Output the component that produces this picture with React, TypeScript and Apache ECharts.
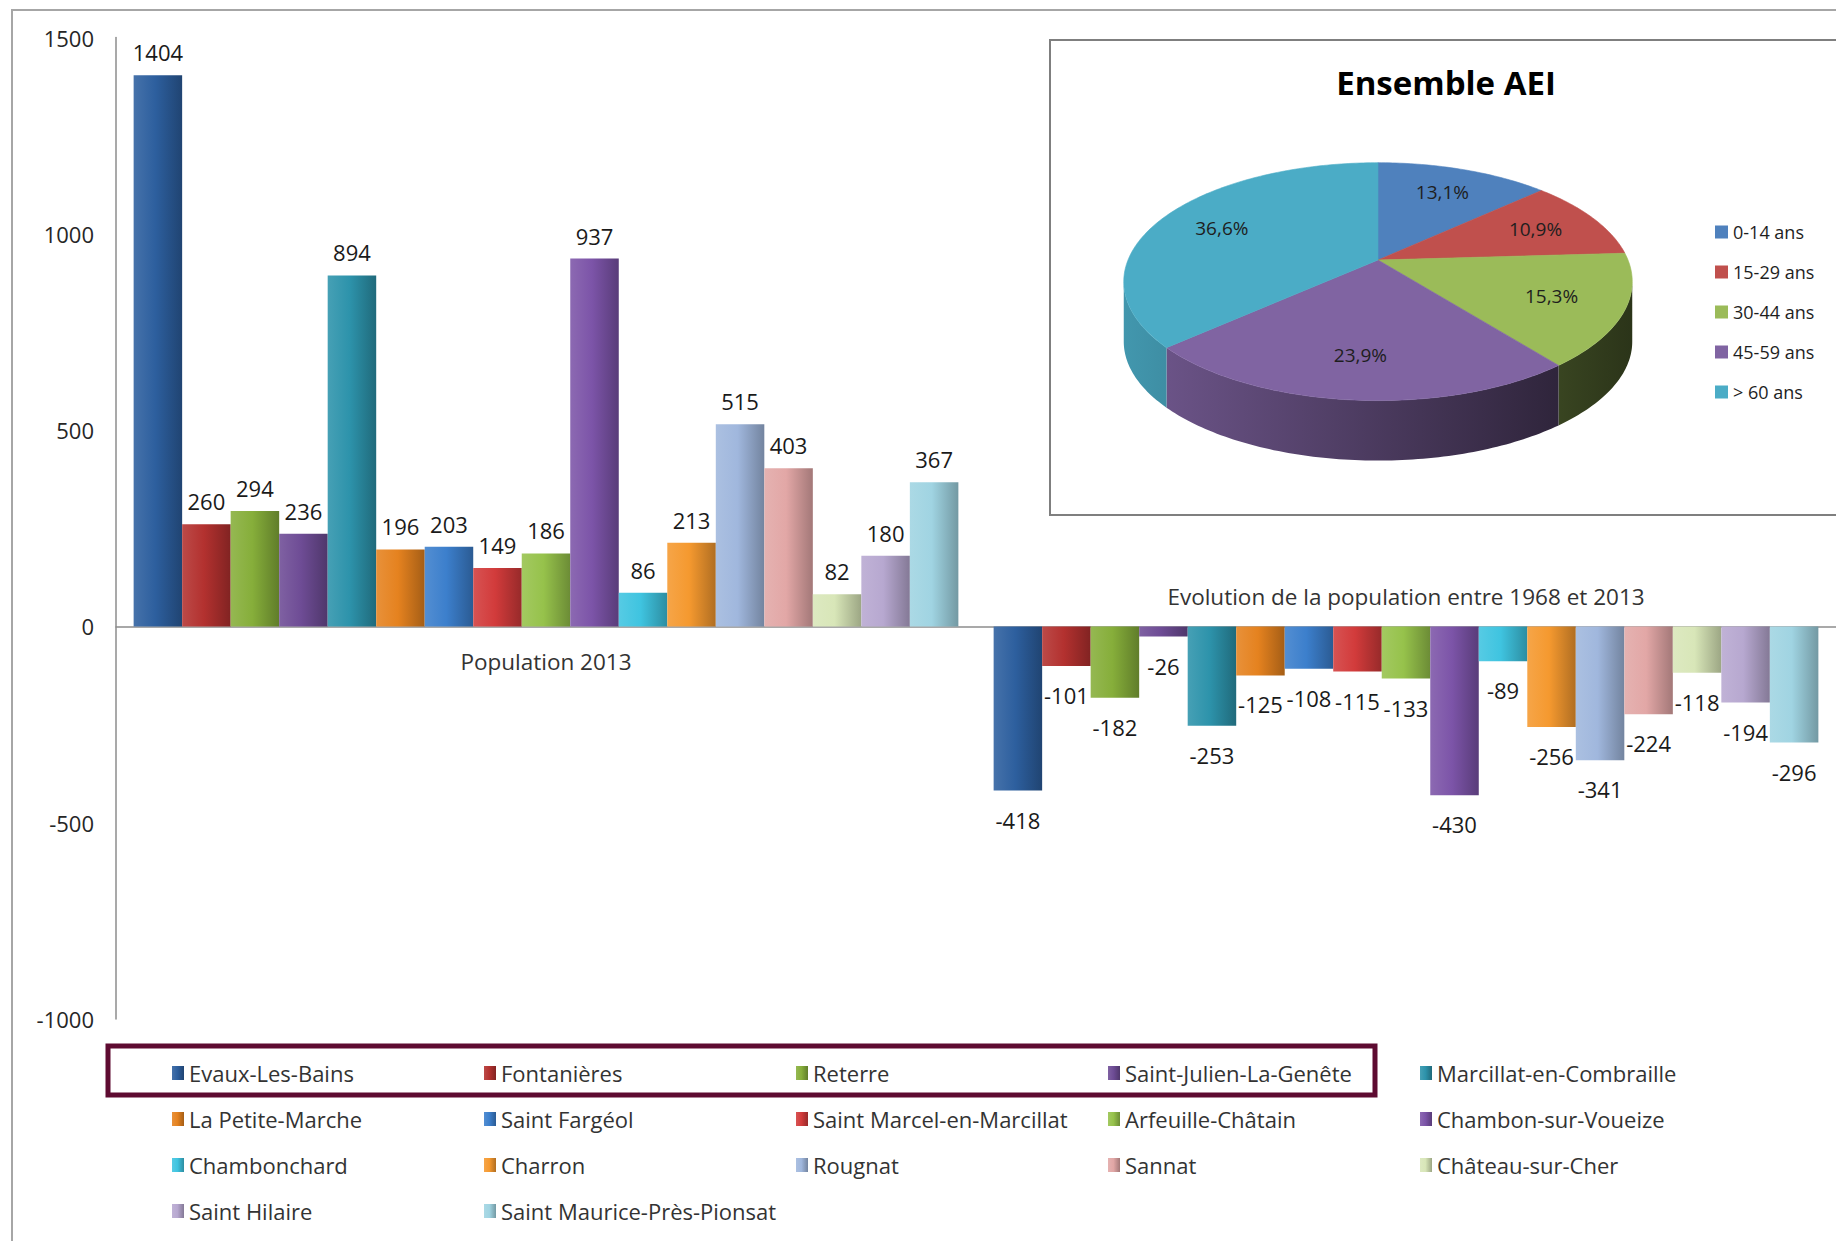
import React, { useEffect, useRef } from 'react';
import * as echarts from 'echarts';

// ---------------- DATA ----------------
const communes = [
  'Evaux-Les-Bains', 'Fontanières', 'Reterre', 'Saint-Julien-La-Genête', 'Marcillat-en-Combraille',
  'La Petite-Marche', 'Saint Fargéol', 'Saint Marcel-en-Marcillat', 'Arfeuille-Châtain', 'Chambon-sur-Voueize',
  'Chambonchard', 'Charron', 'Rougnat', 'Sannat', 'Château-sur-Cher',
  'Saint Hilaire', 'Saint Maurice-Près-Pionsat',
];
const categories = ['Population 2013', 'Evolution de la population entre 1968 et 2013'];
const population2013 = [1404, 260, 294, 236, 894, 196, 203, 149, 186, 937, 86, 213, 515, 403, 82, 180, 367];
const evolution1968to2013 = [-418, -101, -182, -26, -253, -125, -108, -115, -133, -430, -89, -256, -341, -224, -118, -194, -296];
const barColors = [
  '#2D5F9E', '#B3312F', '#86AE3A', '#6E4C95', '#2D93AB',
  '#E5821F', '#3C7FCC', '#D23B3B', '#96C24B', '#7C54A8',
  '#3FC4E0', '#F5992F', '#A0B7DD', '#E2A7A6', '#D8E6B8',
  '#B7A8D0', '#A0D4E2',
];
const yMin = -1000;
const yMax = 1500;
const yStep = 500;

const pieTitle = 'Ensemble AEI';
const ageGroups = ['0-14 ans', '15-29 ans', '30-44 ans', '45-59 ans', '> 60 ans'];
const agePercents = [13.1, 10.9, 15.3, 23.9, 36.6];
const pieColors = ['#4F81BD', '#C0504D', '#9BBB59', '#8064A2', '#4BACC6'];

// ---------------- STYLE HELPERS ----------------
const FONT = "'Open Sans', 'Noto Sans', sans-serif";

function hexToRgb(h: string): number[] {
  const s = h.replace('#', '');
  return [0, 2, 4].map((i) => parseInt(s.slice(i, i + 2), 16));
}
function mix(hex: string, target: string, t: number): string {
  const a = hexToRgb(hex);
  const b = hexToRgb(target);
  const c = a.map((v, i) => Math.round(v + (b[i] - v) * t));
  return `rgb(${c[0]},${c[1]},${c[2]})`;
}
function barGradient(c: string) {
  return new echarts.graphic.LinearGradient(0, 0, 1, 0, [
    { offset: 0, color: mix(c, '#FFFFFF', 0.12) },
    { offset: 0.45, color: c },
    { offset: 1, color: mix(c, '#000000', 0.28) },
  ]);
}

// layout (pixels)
const GRID = { left: 116, top: 37.5, width: 1723, height: 981.5 };
const ZERO_FROM_BOTTOM = (GRID.height * (0 - yMin)) / (yMax - yMin);
const PIE = { cx: 1378, cy: 260, A: 250, B: 115, k: 0.182, depth: 60 };

function project(theta: number, r: number, dy = 0): number[] {
  const u = r * Math.sin(theta);
  const v = -r * Math.cos(theta);
  const s = 1 / (1 - PIE.k * v);
  return [PIE.cx + PIE.A * u * s, PIE.cy + PIE.B * v * s + dy];
}
function arc(a: number, b: number, dy = 0): number[][] {
  const n = Math.max(2, Math.ceil(Math.abs(b - a) / (Math.PI / 180)));
  const pts: number[][] = [];
  for (let i = 0; i <= n; i++) pts.push(project(a + ((b - a) * i) / n, 1, dy));
  return pts;
}

function renderSlice(gi: number, value: number) {
  const total = agePercents.reduce((s, v) => s + v, 0);
  let before = 0;
  for (let i = 0; i < gi; i++) before += agePercents[i];
  const start = (before / total) * Math.PI * 2;
  const end = start + (value / total) * Math.PI * 2;
  const color = pieColors[gi];
  const children: any[] = [];

  const thMin = Math.acos(-PIE.k);
  const thMax = Math.PI * 2 - thMin;
  const s = Math.max(start, thMin);
  const e = Math.min(end, thMax);
  if (e > s) {
    const pts = arc(s, e).concat(arc(e, s, PIE.depth));
    const w = PIE.A * 1.02;
    children.push({
      type: 'polygon',
      z2: 0,
      shape: { points: pts },
      style: {
        fill: new echarts.graphic.LinearGradient(PIE.cx - w, 0, PIE.cx + w, 0, [
          { offset: 0, color: mix(color, '#000000', 0.12) },
          { offset: 1, color: mix(color, '#000000', 0.72) },
        ], true),
        stroke: 'none',
      },
    });
  }
  children.push({
    type: 'polygon',
    z2: 5,
    shape: { points: [project(0, 0)].concat(arc(start, end)) },
    style: { fill: color, stroke: color, lineWidth: 0.6 },
  });
  const mid = (start + end) / 2;
  const lp = project(mid, 0.72);
  children.push({
    type: 'text',
    z2: 10,
    x: lp[0],
    y: lp[1],
    style: {
      text: value.toFixed(1).replace('.', ',') + '%',
      fill: '#1E1E1E',
      fontSize: 19,
      fontFamily: FONT,
      align: 'center',
      verticalAlign: 'middle',
    },
  });
  return { type: 'group', children };
}

// ---------------- CHART ----------------
export default function App() {
  const ref = useRef<HTMLDivElement>(null);

  useEffect(() => {
    if (!ref.current) return;
    const chart = echarts.init(ref.current, null, { renderer: 'svg' });

    const barSeries = communes.map((name, i) => ({
      name,
      type: 'bar',
      xAxisIndex: 0,
      yAxisIndex: 0,
      barGap: '0%',
      barCategoryGap: '4.1%',
      itemStyle: { color: barGradient(barColors[i]) },
      label: {
        show: true,
        position: 'outside',
        fontSize: 22,
        color: '#1A1A1A',
        fontFamily: FONT,
      },
      data: [
        { value: population2013[i], label: { distance: 12 } },
        { value: evolution1968to2013[i], label: { distance: 18 } },
      ],
    }));

    const pieSeries = ageGroups.map((name, gi) => ({
      name,
      type: 'custom',
      coordinateSystem: 'none',
      itemStyle: { color: pieColors[gi] },
      data: [agePercents[gi]],
      renderItem: (_params: any, api: any) => renderSlice(gi, api.value(0)),
    }));

    const option: any = {
      animation: false,
      backgroundColor: '#FFFFFF',
      textStyle: { fontFamily: FONT },
      grid: { ...GRID, containLabel: false },
      xAxis: {
        type: 'category',
        offset: -ZERO_FROM_BOTTOM,
        data: [
          categories[0],
          { value: categories[1], textStyle: { verticalAlign: 'bottom', lineHeight: 108 } },
        ],
        axisLine: { onZero: false, lineStyle: { color: '#8C8C8C', width: 1.5 } },
        axisTick: { show: false },
        axisLabel: { fontSize: 22.5, color: '#333333', margin: 24, fontFamily: FONT, interval: 0 },
      },
      yAxis: {
        type: 'value',
        min: yMin,
        max: yMax,
        interval: yStep,
        axisLine: { show: true, lineStyle: { color: '#8C8C8C', width: 1.5 } },
        axisTick: { show: false },
        splitLine: { show: false },
        axisLabel: {
          fontSize: 22,
          color: '#262626',
          margin: 22,
          fontFamily: FONT,
          formatter: (v: number) => String(v),
        },
      },
      legend: [
        {
          data: communes,
          left: 172,
          top: 1060,
          width: 1600,
          padding: 0,
          orient: 'horizontal',
          icon: 'rect',
          itemWidth: 12,
          itemHeight: 14,
          itemGap: 20,
          selectedMode: false,
          textStyle: { fontSize: 22, color: '#333333', width: 275, lineHeight: 26, fontFamily: FONT },
        },
        {
          data: ageGroups,
          left: 1715,
          top: 222,
          padding: 0,
          orient: 'vertical',
          icon: 'rect',
          itemWidth: 13,
          itemHeight: 13,
          itemGap: 20,
          selectedMode: false,
          textStyle: { fontSize: 18, color: '#1E1E1E', lineHeight: 20, fontFamily: FONT },
        },
      ],
      graphic: [
        {
          type: 'polyline',
          z: 0,
          shape: { points: [[12, 1241], [12, 10], [1836, 10]] },
          style: { stroke: '#A6A6A6', lineWidth: 2, fill: 'none' },
        },
        {
          type: 'rect',
          z: 0,
          shape: { x: 1050, y: 40, width: 900, height: 475 },
          style: { fill: '#FFFFFF', stroke: '#7F7F7F', lineWidth: 2 },
        },
        {
          type: 'text',
          z: 1,
          x: 1446,
          y: 82,
          style: {
            text: pieTitle,
            fontSize: 33,
            fontWeight: 'bold',
            fontFamily: FONT,
            fill: '#000000',
            align: 'center',
            verticalAlign: 'middle',
            textAlign: 'center',
            textVerticalAlign: 'middle',
          },
        },
        {
          type: 'rect',
          z: 1,
          shape: { x: 108, y: 1046, width: 1267, height: 49 },
          style: { fill: 'none', stroke: '#5E0B31', lineWidth: 5 },
        },
      ],
      series: [...barSeries, ...pieSeries],
    };

    chart.setOption(option);
    return () => chart.dispose();
  }, []);

  return (
    <div
      ref={ref}
      style={{ position: 'fixed', left: 0, top: 0, width: 1836, height: 1241, background: '#FFFFFF' }}
    />
  );
}
